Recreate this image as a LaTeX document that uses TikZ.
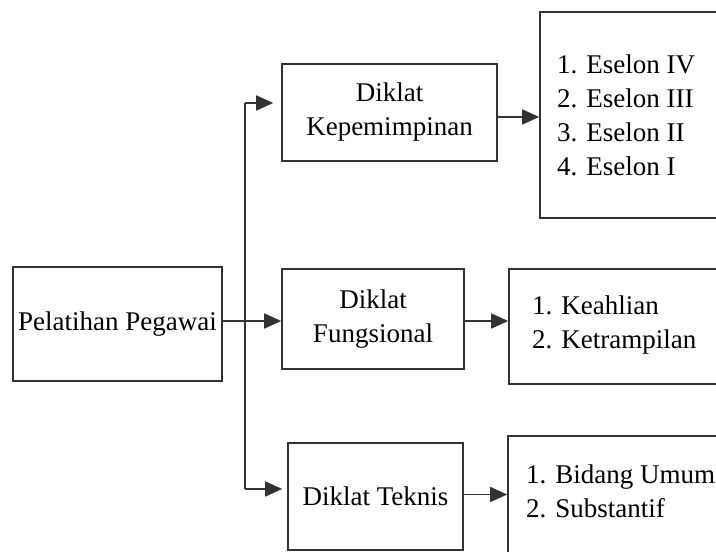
\documentclass[tikz,border=0pt]{standalone}
\usepackage{fontspec}
\setmainfont{Liberation Serif}
\usetikzlibrary{arrows.meta}
\begin{document}
\begin{tikzpicture}[x=1pt,y=-1pt,
 box/.style={draw=black!80, line width=1.6pt, inner sep=0pt, align=center, font=\fontsize{27}{34}\selectfont},
 lst/.style={inner sep=0pt, align=left, font=\fontsize{27}{34}\selectfont, anchor=west},
 arr/.style={draw=black!80, line width=1.6pt, -{Triangle[length=17pt,width=15pt]}},
 ln/.style={draw=black!80, line width=1.6pt}]
\clip (0,0) rectangle (716,552);
\fill[white] (0,0) rectangle (716,552);
\node[box, minimum width=209pt, minimum height=114pt] (pel) at (117.5,324) {Pelatihan Pegawai};
\node[box, minimum width=215pt, minimum height=97pt] (kep) at (389.5,112.5) {Diklat\\Kepemimpinan};
\node[box, minimum width=182pt, minimum height=100pt] (fung) at (373,319) {Diklat\\Fungsional};
\node[box, minimum width=175pt, minimum height=107pt] (tek) at (375.5,496.5) {Diklat Teknis};
\node[box, minimum width=220pt, minimum height=206pt] (esl) at (650,115) {};
\node[box, minimum width=220pt, minimum height=115pt] (kea) at (619,326.5) {};
\node[box, minimum width=220pt, minimum height=160pt] (bid) at (618,516) {};
\node[lst] (eslt) at (557,115) {1. Eselon IV\\2. Eselon III\\3. Eselon II\\4. Eselon I};
\node[lst] (keat) at (532,325) {1. Keahlian\\2. Ketrampilan};
\node[lst] (bidt) at (526,491.5) {1. Bidang Umum\\2. Substantif};
\coordinate (jt) at (245,103);
\coordinate (jb) at (245,489);
\draw[ln] (jt) -- (jb);
\draw[arr, shorten >=8pt] (jt) -- (jt -| kep.west);
\draw[arr, shorten >=5pt] (jb) -- (jb -| tek.west);
\draw[arr] ([yshift=3pt]pel.east) -- ([yshift=3pt]pel.east -| fung.west);
\draw[arr] ([yshift=-4.5pt]kep.east) -- ([yshift=-4.5pt]kep.east -| esl.west);
\draw[arr] ([yshift=-2pt]fung.east) -- ([yshift=-2pt]fung.east -| kea.west);
\draw[arr] ([yshift=2pt]tek.east) -- ([yshift=2pt]tek.east -| bid.west);
\end{tikzpicture}
\end{document}
